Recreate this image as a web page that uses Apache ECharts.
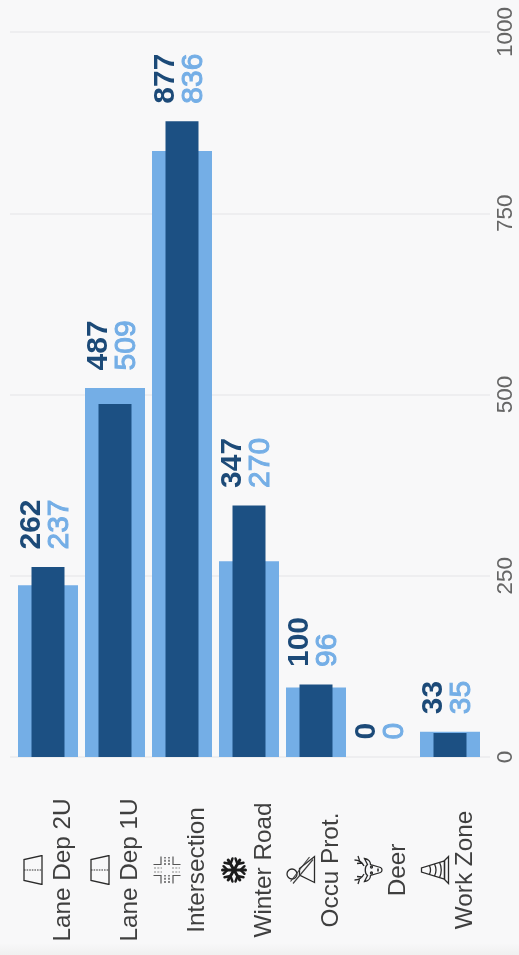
<!DOCTYPE html>
<html><head><meta charset="utf-8">
<style>html,body{margin:0;padding:0;background:#f8f8f9}#c{width:519px;height:955px}</style>
<script src="https://cdn.jsdelivr.net/npm/echarts@6/dist/echarts.min.js"></script>
</head><body><div id="c"></div>
<script>
const categories=['Lane Dep 2U','Lane Dep 1U','Intersection','Winter Road','Occu Prot.','Deer','Work Zone'];
const darkValues=[262,487,877,347,100,0,33];
const lightValues=[237,509,836,270,96,0,35];
const yTicks=[0,250,500,750,1000];

const s='stroke="#2b2b2b" fill="none"';
const lane=`<path d="M4.500 6H25.500L29.500 24H.5Z" ${s} stroke-width="1.300"/><path d="M15 6V24" stroke="#333" stroke-width="1" stroke-dasharray="1.600 1"/>`;
const cross=`<g fill="none" stroke-width="1.200"><path stroke="#555" d="M1.500 9H9.500V1.500M20.500 1.500V9H28.500M28.500 21H20.500V28.500M9.500 28.500V21H1.500"/><path stroke="#333" stroke-dasharray="2 1.300" d="M2 13H10M20 13H28M2 17H10M20 17H28"/><path stroke="#888" stroke-dasharray="2 1.300" d="M13 2V10M17 2V10M13 20V28M17 20V28"/></g>`;
const flake=`<g stroke="#1c1c1c" stroke-width="3" fill="none" stroke-linecap="round"><path d="M15 3.500V26.500M5 9.200L25 20.800M5 20.800L25 9.200"/><path stroke-width="2.400" d="M11.200 4.500L15 8.500L18.800 4.500M11.200 25.500L15 21.500L18.800 25.500M3.500 13.500L9 11.500L7.800 5.500M26.500 16.500L21 18.500L22.200 24.500M3.500 16.500L9 18.500L7.800 24.500M26.500 13.500L21 11.500L22.200 5.500"/></g>`;
const occu=`<g ${s} stroke-width="1.300"><circle cx="11" cy="6" r="5"/><path d="M2.500 28.500L10 13.500H16.500L28.500 28.500Z"/><path d="M3.500 4.500L28 23.500M1.500 7L25.500 27" stroke-width="1.200" stroke="#444"/></g>`;
const deer=`<g ${s} stroke-width="1.300"><path d="M11 11C7 9 5 6 5 1.500M5.500 6.500L1 5M8 9L8.500 4M19 11C23 9 25 6 25 1.500M24.500 6.500L29 5M22 9L21.500 4"/><path d="M9.500 14.500L3.500 11.500C4 15 6.500 17.500 9.500 17.500L12.500 27.500C13.500 29.500 16.500 29.500 17.500 27.500L20.500 17.500C23.500 17.500 26 15 26.500 11.500L20.500 14.500C18.500 11.500 11.500 11.500 9.500 14.500Z"/><circle cx="12" cy="18.500" r="1"/><circle cx="18" cy="18.500" r="1"/><path d="M13.500 25H16.500" stroke-width="1.600"/></g>`;
const cone=`<g ${s} stroke-width="1.300"><path d="M13 1.500H17L24 24.500H6Z"/><path d="M1.500 28.500H28.500L24.500 24.500H5.500ZM10.800 9.500Q15 11.500 19.200 9.500M9 14.500Q15 17.500 21 14.500M7.300 19.500Q15 23 22.700 19.500"/></g>`;
const iconBodies=[lane,lane,cross,flake,occu,deer,cone];
const iconUrl=b=>'data:image/svg+xml;charset=utf-8,'+encodeURIComponent(`<svg xmlns="http://www.w3.org/2000/svg" width="60" height="60" viewBox="0 0 30 30">${b}</svg>`);

const rich={name:{fontSize:24.300,color:'#3f3f3f',height:30,lineHeight:30,align:'center',fontFamily:'Liberation Sans'}};
iconBodies.forEach((b,i)=>{rich['ic'+i]={width:30,height:30,lineHeight:30,align:'center',backgroundColor:{image:iconUrl(b)}};});

const labelAnchor=darkValues.map((v,i)=>Math.max(v,lightValues[i]));
const valueLabels=(vals,color,dx,weight,border)=>({
  type:'scatter',xAxisIndex:2,yAxisIndex:1,symbolSize:0,silent:true,z:5,
  itemStyle:{opacity:1},
  data:labelAnchor,
  label:{show:true,position:'top',distance:17.5,rotate:90,align:'left',verticalAlign:'middle',offset:[0,dx],opacity:1,
    color,fontWeight:weight,fontSize:30,fontFamily:'Liberation Sans',textBorderColor:color,textBorderWidth:border,
    formatter:p=>String(vals[p.dataIndex])}
});

const chart=echarts.init(document.getElementById('c'),null,{renderer:'canvas'});
chart.setOption({
  animation:false,
  backgroundColor:'#f8f8f9',
  graphic:[{type:'rect',silent:true,z:-1,shape:{x:0,y:943,width:519,height:12},
    style:{fill:new echarts.graphic.LinearGradient(0,0,0,1,[{offset:0,color:'#f8f8f9'},{offset:1,color:'#f0f0f0'}])}}],
  grid:[
    {left:10,right:29,top:32,bottom:198},
    {left:14.5,right:35.5,top:32,bottom:198}
  ],
  xAxis:[
    {gridIndex:1,type:'category',data:categories,axisLine:{show:false},axisTick:{show:false},
     axisLabel:{interval:0,rotate:90,margin:113,align:'center',verticalAlign:'middle',hideOverlap:false,
       formatter:(v)=>{const i=categories.indexOf(v);return `{ic${i}|}\n{name|${v}}`;},rich}},
    {gridIndex:1,type:'category',data:categories,show:false},
    {gridIndex:1,type:'category',data:categories,show:false},
    {gridIndex:0,type:'category',data:categories,show:false}
  ],
  yAxis:[
    {gridIndex:0,type:'value',position:'right',min:0,max:1000,interval:250,
     axisLine:{show:false},axisTick:{show:false},
     splitLine:{lineStyle:{color:'#ebebed',width:1.5}},
     axisLabel:{rotate:90,margin:16,align:'center',verticalAlign:'middle',color:'#666',fontSize:22.500,fontFamily:'Liberation Sans',
       formatter:v=>yTicks.includes(v)?String(v):''}},
    {gridIndex:1,type:'value',min:0,max:1000,interval:250,show:false}
  ],
  series:[
    {type:'bar',xAxisIndex:0,yAxisIndex:1,data:lightValues,barWidth:60,itemStyle:{color:'#74aee6'},z:2},
    {type:'bar',xAxisIndex:1,yAxisIndex:1,data:darkValues,barWidth:33,itemStyle:{color:'#1c5083'},z:3},
    valueLabels(darkValues,'#1c4a78',-16.5,'bold',0),
    valueLabels(lightValues,'#74aee6',12,'normal',1)
  ]
});
</script></body></html>
